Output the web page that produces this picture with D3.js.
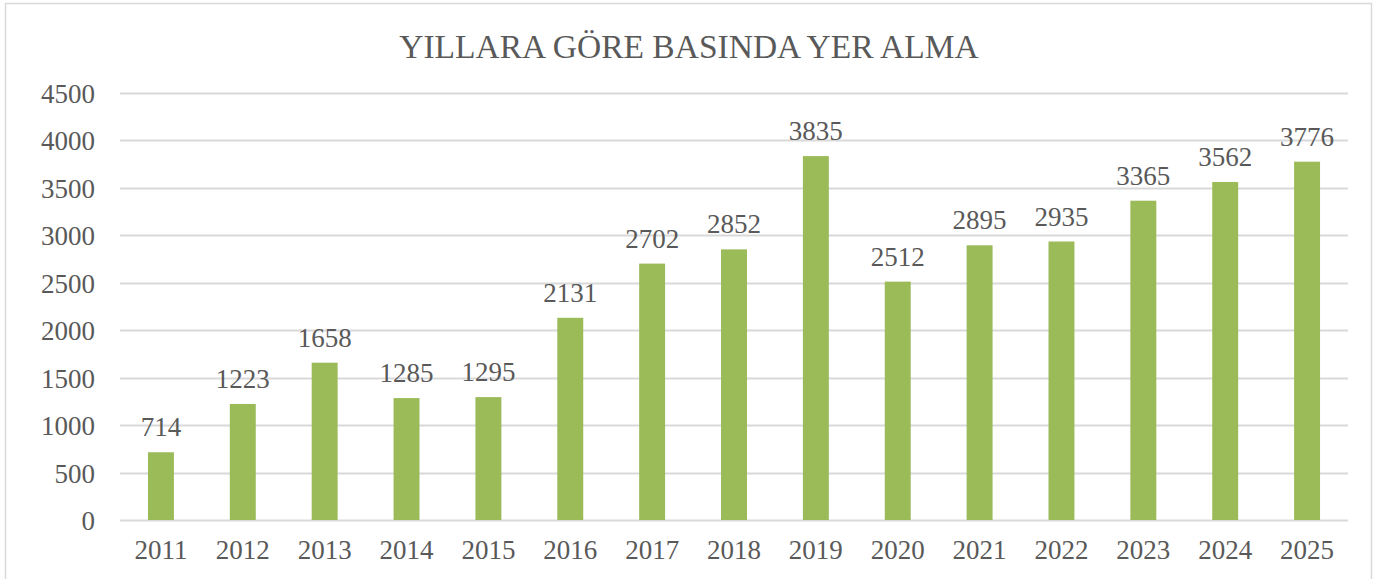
<!DOCTYPE html>
<html>
<head>
<meta charset="utf-8">
<script src="https://cdn.jsdelivr.net/npm/d3@7"></script>
<style>
  body { margin: 0; background: #fff; }
  svg text { font-family: "Liberation Serif", "Times New Roman", serif; fill: #595959; }
</style>
</head>
<body>
<div id="chart"></div>
<script>
// chart data
const years = ["2011", "2012", "2013", "2014", "2015", "2016", "2017", "2018",
  "2019", "2020", "2021", "2022", "2023", "2024", "2025"];
const counts = [714, 1223, 1658, 1285, 1295, 2131, 2702, 2852,
  3835, 2512, 2895, 2935, 3365, 3562, 3776];
const yTicks = [0, 500, 1000, 1500, 2000, 2500, 3000, 3500, 4000, 4500];
const title = "YILLARA GÖRE BASINDA YER ALMA";

const width = 1390, height = 579;
const margin = { top: 93, right: 42, bottom: 59, left: 120 };

const svg = d3.select("#chart").append("svg")
  .attr("width", width)
  .attr("height", height);

// outer frame
svg.append("rect")
  .attr("x", 5.5).attr("y", 3.5)
  .attr("width", 1366).attr("height", 600)
  .attr("fill", "none")
  .attr("stroke", "#d9d9d9")
  .attr("stroke-width", 1.5);

svg.append("text")
  .attr("x", 689).attr("y", 58)
  .attr("text-anchor", "middle")
  .style("font-size", "33.5px")
  .text(title);

const x = d3.scaleBand()
  .domain(years)
  .range([margin.left, width - margin.right])
  .paddingInner(0.683)
  .paddingOuter(0.3415);

const y = d3.scaleLinear()
  .domain([0, 4500])
  .range([height - margin.bottom, margin.top]);

// gridlines
svg.append("g")
  .selectAll("line")
  .data(yTicks)
  .join("line")
  .attr("x1", margin.left)
  .attr("x2", width - margin.right)
  .attr("y1", d => Math.round(y(d)) + 0.5)
  .attr("y2", d => Math.round(y(d)) + 0.5)
  .attr("stroke", "#d9d9d9")
  .attr("stroke-width", 2);

// y axis labels
const yAxis = svg.append("g")
  .attr("transform", `translate(${margin.left},0)`)
  .call(d3.axisLeft(y).tickValues(yTicks).tickFormat(d3.format("d")).tickSize(0).tickPadding(25));
yAxis.select(".domain").remove();
yAxis.selectAll("text")
  .style("font-size", "27px")
  .attr("fill", "#595959")
  .attr("dy", "0.35em");

// x axis labels
const xAxis = svg.append("g")
  .attr("transform", `translate(0,${height - margin.bottom})`)
  .call(d3.axisBottom(x).tickSize(0).tickPadding(20));
xAxis.select(".domain").remove();
xAxis.selectAll("text")
  .style("font-size", "27px")
  .attr("fill", "#595959");

// bars
svg.append("g")
  .selectAll("rect")
  .data(counts)
  .join("rect")
  .attr("x", (d, i) => x(years[i]))
  .attr("y", d => y(d))
  .attr("width", x.bandwidth())
  .attr("height", d => y(0) - y(d))
  .attr("fill", "#9bbb59");

// value labels
svg.append("g")
  .selectAll("text")
  .data(counts)
  .join("text")
  .attr("x", (d, i) => x(years[i]) + x.bandwidth() / 2)
  .attr("y", d => y(d) - 16)
  .attr("text-anchor", "middle")
  .style("font-size", "27px")
  .text(d => d);
</script>
</body>
</html>
